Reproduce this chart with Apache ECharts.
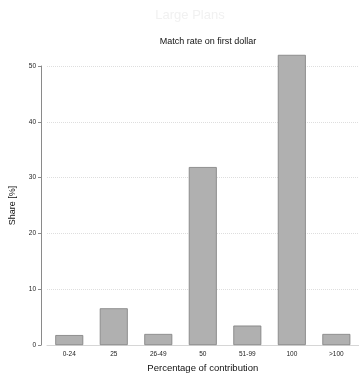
<!DOCTYPE html>
<html>
<head>
<meta charset="utf-8">
<script src="https://cdn.jsdelivr.net/npm/echarts@6/dist/echarts.min.js"></script>
<style>
  html, body { margin: 0; padding: 0; background: #fff; }
  #chart { width: 360px; height: 378px; }
</style>
</head>
<body>
<div id="chart"></div>
<script>
// Share of large plans by employer match rate on the first dollar
const categories = ['0-24', '25', '26-49', '50', '51-99', '100', '>100'];
const shares = [1.8, 6.6, 2.0, 31.9, 3.5, 52.0, 2.0];
const yTicks = [0, 10, 20, 30, 40, 50];

const FONT = 'Liberation Sans, Arial, sans-serif';
const chart = echarts.init(document.getElementById('chart'), null, { renderer: 'canvas' });

chart.setOption({
  animation: false,
  backgroundColor: '#fff',
  title: [
    {
      text: 'Large Plans',
      left: 185, top: 4, textAlign: 'center',
      textStyle: { fontFamily: FONT, fontSize: 13, fontWeight: 'normal', color: '#f1f1f1' }
    },
    {
      text: 'Match rate on first dollar',
      left: 203, top: 32, textAlign: 'center',
      textStyle: { fontFamily: FONT, fontSize: 9, fontWeight: 'normal', color: '#111' }
    }
  ],
  grid: { left: 45.6, right: 1.4, top: 66, bottom: 26, containLabel: false },
  xAxis: {
    type: 'category',
    data: categories,
    name: 'Percentage of contribution',
    nameLocation: 'middle',
    nameGap: 15,
    nameTextStyle: { fontFamily: FONT, fontSize: 9.5, color: '#111' },
    axisLine: { show: true, lineStyle: { color: '#d6d6d6', width: 1 } },
    axisTick: { show: false },
    axisLabel: { fontFamily: FONT, fontSize: 6.5, color: '#222', margin: 6 },
    splitLine: { show: false }
  },
  yAxis: {
    type: 'value',
    min: yTicks[0],
    max: yTicks[yTicks.length - 1],
    interval: 10,
    offset: 6,
    name: 'Share [%]',
    nameLocation: 'middle',
    nameGap: 24,
    nameTextStyle: { fontFamily: FONT, fontSize: 9, color: '#111' },
    axisLine: { show: true, lineStyle: { color: '#8a8a8a', width: 1 } },
    axisTick: { show: true, length: 3, lineStyle: { color: '#8a8a8a' } },
    axisLabel: { fontFamily: FONT, fontSize: 6.5, color: '#222', margin: 5 },
    splitLine: { show: true, lineStyle: { color: '#dedede', type: [1, 1], width: 1 } }
  },
  series: [{
    type: 'bar',
    data: shares,
    barWidth: 28,
    clip: false,
    itemStyle: { color: '#b0b0b0', borderColor: '#7d7d7d', borderWidth: 0.8 }
  }]
});
</script>
</body>
</html>
